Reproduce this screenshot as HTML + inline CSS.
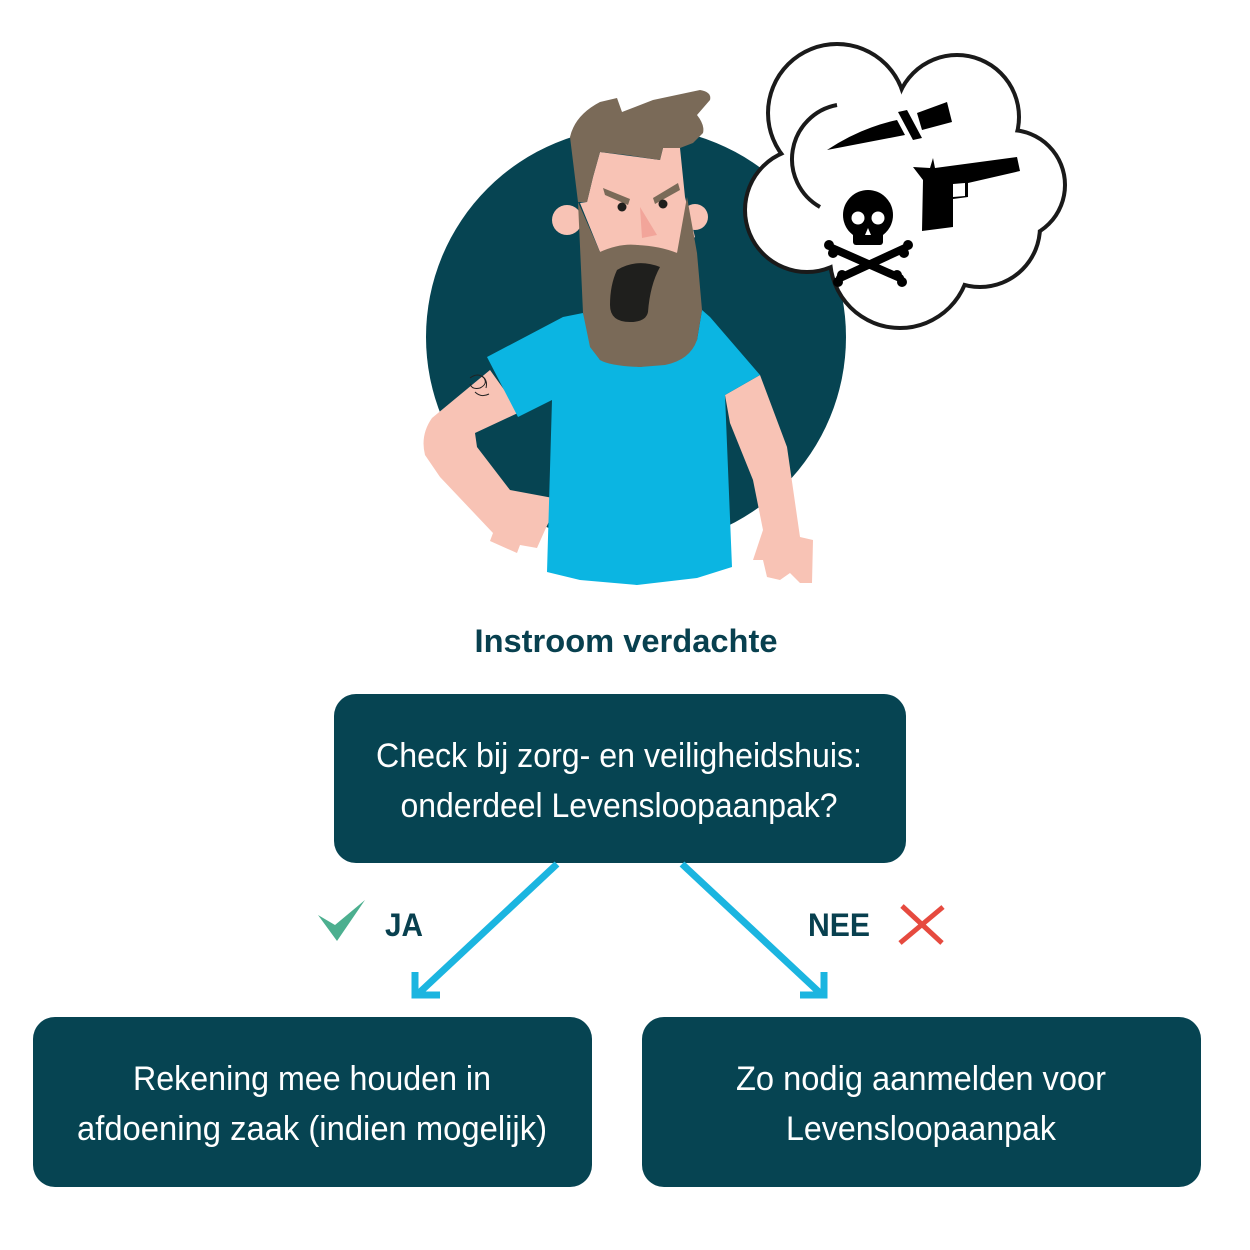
<!DOCTYPE html>
<html><head><meta charset="utf-8"><style>html,body{margin:0;padding:0;background:#fff}svg{display:block}</style></head>
<body>
<svg width="1250" height="1250" viewBox="0 0 1250 1250" xmlns="http://www.w3.org/2000/svg" font-family="'Liberation Sans', sans-serif">
<rect width="1250" height="1250" fill="#fff"/>
<circle cx="636" cy="337" r="210" fill="#064452"/>
<polygon fill="#f8c3b5" points="725,395 760,375 787,447 800,537 813,540 812,583 800,583 790,573 780,580 767,577 763,560 753,560 763,530 753,480 730,423"/>
<path fill="#f8c3b5" d="M490,370 L432,418 Q420,435 425,455 L440,477 493,533 490,541 517,553 520,545 537,548 545,530 553,513 553,498 510,490 477,447 475,433 520,412 Z"/>
<polygon fill="#0bb5e2" points="487,357 563,317 583,313 593,347 600,360 640,367 677,360 697,340 702,310 710,317 760,375 725,395 732,567 697,578 637,585 580,580 547,572 552,400 518,417"/>
<g fill="none" stroke="#222" stroke-width="1"><path d="M470,378 q8,-6 14,0 q4,6 -4,10 q-8,2 -10,-4 M475,392 q6,6 14,2 M482,376 q6,4 4,12"/></g>
<circle cx="567" cy="220" r="15" fill="#f8c3b5"/>
<circle cx="695" cy="217" r="13" fill="#f8c3b5"/>
<polygon fill="#f8c3b5" points="600,152 660,160 663,148 680,148 685,197 695,237 677,253 637,245 600,252 580,203 587,202 593,177"/>
<path fill="#7a6a58" d="M570,137 Q575,115 600,102 L617,98 622,112 653,100 700,90 Q712,92 710,100 L697,115 Q705,125 703,133 L693,143 680,148 663,148 660,160 627,155 600,152 593,177 587,202 578,202 Z"/>
<path fill="#7a6a58" d="M578,202 L600,252 Q620,243 637,245 Q660,246 677,253 L687,197 697,253 702,310 697,340 Q690,360 665,365 L640,367 Q610,366 600,360 L590,347 583,313 Z"/>
<path fill="#1f1f1d" d="M617,270 Q637,258 660,267 Q650,285 648,312 Q646,322 630,322 Q610,322 610,305 Q610,285 617,270 Z"/>
<polygon fill="#7a6a58" points="603,188 605,195 628,205 630,199"/>
<polygon fill="#7a6a58" points="653,198 678,183 680,190 655,204"/>
<circle cx="622" cy="207" r="4.5" fill="#1f1f1d"/>
<circle cx="663" cy="204" r="4.5" fill="#1f1f1d"/>
<polygon fill="#f2a59a" points="640,207 657,235 642,238"/>
<g stroke="#1a1a1a" stroke-width="8" fill="#1a1a1a">
<circle cx="837" cy="113" r="67"/><circle cx="957" cy="117" r="60"/><circle cx="1010" cy="185" r="53"/>
<circle cx="900" cy="258" r="68"/><circle cx="807" cy="210" r="60"/><circle cx="980" cy="227" r="58"/><circle cx="900" cy="180" r="70"/>
</g>
<g fill="#fff">
<circle cx="837" cy="113" r="67"/><circle cx="957" cy="117" r="60"/><circle cx="1010" cy="185" r="53"/>
<circle cx="900" cy="258" r="68"/><circle cx="807" cy="210" r="60"/><circle cx="980" cy="227" r="58"/><circle cx="900" cy="180" r="70"/>
</g>
<path d="M837,105 A55,55 0 0 0 820,207" fill="none" stroke="#1a1a1a" stroke-width="4"/>
<path fill="#000" d="M827,150 Q860,128 897,120 L905,135 Z"/>
<polygon fill="#000" points="898,112 907,110 922,138 913,140"/>
<polygon fill="#000" points="917,113 947,102 952,122 922,130"/>
<path fill="#000" fill-rule="evenodd" d="M913,167 L930,168 933,158 935,168 1017,157 1020,171 968,183 968,197 953,199 953,227 922,231 923,180 Z M953,184 L965,183 965,196 953,197 Z"/>
<g stroke="#000" stroke-width="8" stroke-linecap="round"><line x1="832" y1="248" x2="900" y2="278"/><line x1="905" y1="248" x2="840" y2="278"/></g>
<g fill="#000"><circle cx="829" cy="245" r="5"/><circle cx="833" cy="253" r="5"/><circle cx="908" cy="245" r="5"/><circle cx="904" cy="253" r="5"/><circle cx="838" cy="282" r="5"/><circle cx="842" cy="275" r="5"/><circle cx="902" cy="282" r="5"/><circle cx="897" cy="275" r="5"/></g>
<circle cx="868" cy="215" r="25" fill="#000"/>
<rect x="853" y="222" width="30" height="23" rx="3" fill="#000"/>
<circle cx="858" cy="218" r="6.5" fill="#fff"/><circle cx="878" cy="218" r="6.5" fill="#fff"/>
<polygon points="868,228 871,235 865,235" fill="#fff"/>
<text x="626" y="652" text-anchor="middle" font-weight="bold" font-size="32" fill="#08404f" textLength="303" lengthAdjust="spacingAndGlyphs">Instroom verdachte</text>
<rect x="334" y="694" width="572" height="169" rx="22" fill="#064452"/>
<text x="619" y="767" text-anchor="middle" font-size="34" fill="#fff" textLength="486" lengthAdjust="spacingAndGlyphs">Check bij zorg- en veiligheidshuis:</text>
<text x="619" y="817" text-anchor="middle" font-size="34" fill="#fff" textLength="437" lengthAdjust="spacingAndGlyphs">onderdeel Levensloopaanpak?</text>
<g stroke="#1bb5e0" stroke-width="7" fill="none">
<line x1="557" y1="864" x2="419" y2="993"/>
<polyline points="415,972 415,995 440,995"/>
<line x1="682" y1="864" x2="820" y2="993"/>
<polyline points="824,972 824,995 800,995"/>
</g>
<polygon fill="#4caf8f" points="318,915 335,925 365,900 337,941"/>
<text x="385" y="936" font-weight="bold" font-size="32" fill="#08404f" textLength="38" lengthAdjust="spacingAndGlyphs">JA</text>
<text x="808" y="936" font-weight="bold" font-size="32" fill="#08404f" textLength="62" lengthAdjust="spacingAndGlyphs">NEE</text>
<g stroke="#e64a3f" stroke-width="5"><line x1="902" y1="906" x2="942" y2="943"/><line x1="943" y1="907" x2="900" y2="943"/></g>
<rect x="33" y="1017" width="559" height="170" rx="22" fill="#064452"/>
<text x="312" y="1090" text-anchor="middle" font-size="34" fill="#fff" textLength="358" lengthAdjust="spacingAndGlyphs">Rekening mee houden in</text>
<text x="312" y="1140" text-anchor="middle" font-size="34" fill="#fff" textLength="470" lengthAdjust="spacingAndGlyphs">afdoening zaak (indien mogelijk)</text>
<rect x="642" y="1017" width="559" height="170" rx="22" fill="#064452"/>
<text x="921" y="1090" text-anchor="middle" font-size="34" fill="#fff" textLength="370" lengthAdjust="spacingAndGlyphs">Zo nodig aanmelden voor</text>
<text x="921" y="1140" text-anchor="middle" font-size="34" fill="#fff" textLength="270" lengthAdjust="spacingAndGlyphs">Levensloopaanpak</text>
</svg>
</body></html>
